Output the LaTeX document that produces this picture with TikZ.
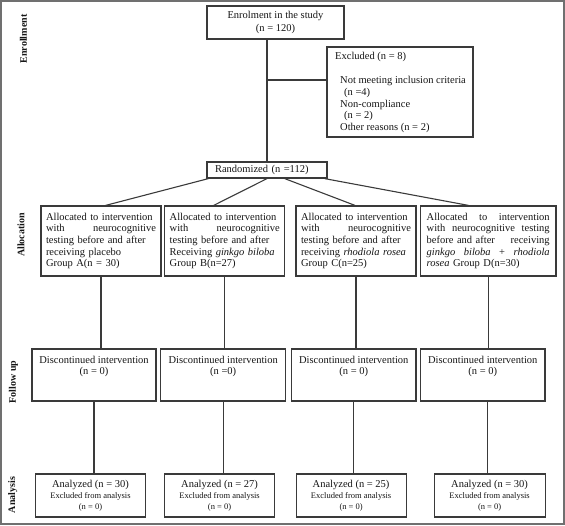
\documentclass[tikz,border=0pt]{standalone}
\usepackage{fontspec}
\setmainfont{Liberation Serif}
\definecolor{ln}{HTML}{3A3A3A}
\definecolor{txt}{HTML}{151515}
\definecolor{framec}{HTML}{707070}
\begin{document}
\begin{tikzpicture}[x=1pt,y=-1pt,
  every node/.style={font=\fontsize{10.5}{11.8}\selectfont, text=txt},
  box/.style={draw=ln, line width=1.2pt, rectangle, inner sep=0pt},
  conn/.style={draw=ln, line width=1.1pt},
  side/.style={rotate=90, font=\fontsize{10}{12}\selectfont\bfseries},
  alloc/.style={box, minimum height=70pt, text width=110pt, inner xsep=5pt, align=left,
    font=\fontsize{10.5}{11.7}\selectfont, execute at begin node={\hyphenpenalty=10000 }},
  fubox/.style={box, minimum height=52pt},
  futxt/.style={anchor=north, inner sep=0pt, align=center},
  anbox/.style={box, minimum height=43pt, align=center}]
\useasboundingbox (0,0) rectangle (565,525);
\draw[draw=framec, line width=1.5pt] (0.8,0.8) rectangle (564.2,524.2);

% side labels
\node[side] (lenr) at (23.5,39) {Enrollment};
\node[side] (lall) at (21,235) {Allocation};
\node[side] (lfu) at (13.5,382) {Follow up};
\node[side] (lan) at (12.7,495) {Analysis};

% enrolment
\node[box, minimum width=137pt, minimum height=33pt, align=center, font=\fontsize{10.5}{12.4}\selectfont] (enrol) at (275.5,22.5) {Enrolment in the study\\(n = 120)};
\node[box, minimum width=146pt, minimum height=90pt] (excl) at (400,92) {};
\node[anchor=north west, inner sep=0pt, align=left] (excltxt) at (335,52.5) {Excluded (n = 8)\\~\\\hspace*{5pt}Not meeting inclusion criteria\\\hspace*{9pt}(n =4)\\\hspace*{5pt}Non-compliance\\\hspace*{9pt}(n = 2)\\\hspace*{5pt}Other reasons (n = 2)};

\node[box, minimum height=16pt, text width=104pt, inner xsep=8pt, align=left] (rand) at (267,170) {Randomized (n =112)};

% allocation
\node[alloc] (allocA) at (101,241) {Allocated to intervention\\with\hfill neurocognitive\\testing before and after\\receiving placebo\\Group A(n = 30)};
\node[alloc] (allocB) at (224.7,241) {Allocated to intervention\\with\hfill neurocognitive\\testing before and after\\Receiving \textit{ginkgo biloba}\\Group B(n=27)};
\node[alloc] (allocC) at (356,241) {Allocated to intervention\\with\hfill neurocognitive\\testing before and after\\receiving \textit{rhodiola rosea}\\Group C(n=25)};
\node[alloc, text width=123pt, inner xsep=6.25pt] (allocD) at (488.2,241) {Allocated\hfill to\hfill intervention\\with\hfill neurocognitive\hfill testing\\before and after\hfill receiving\\\textit{ginkgo}\hfill\textit{biloba}\hfill+\hfill\textit{rhodiola}\\\textit{rosea} Group D(n=30)};

% follow up
\node[fubox, minimum width=124pt] (fuA) at (94,375) {};
\node[fubox, minimum width=125pt] (fuB) at (223.2,375) {};
\node[fubox, minimum width=124.5pt] (fuC) at (353.8,375) {};
\node[fubox, minimum width=124.5pt] (fuD) at (482.8,375) {};
\node[futxt] (fuAt) at ([yshift=-7.3pt]fuA.north) {Discontinued intervention\\(n = 0)};
\node[futxt] (fuBt) at ([yshift=-7.3pt]fuB.north) {Discontinued intervention\\(n =0)};
\node[futxt] (fuCt) at ([yshift=-7.3pt]fuC.north) {Discontinued intervention\\(n = 0)};
\node[futxt] (fuDt) at ([yshift=-7.3pt]fuD.north) {Discontinued intervention\\(n = 0)};

% analysis
\newcommand{\antext}[1]{Analyzed (n = #1)\\[-1pt]{\fontsize{8.5}{9.5}\selectfont Excluded from analysis}\\[-1pt]{\fontsize{8.5}{9.5}\selectfont (n = 0)}}
\node[anbox, minimum width=110pt] (anA) at (90.5,495.5) {\antext{30}};
\node[anbox, minimum width=110pt] (anB) at (219.6,495.5) {\antext{27}};
\node[anbox, minimum width=110pt] (anC) at (351.1,495.5) {\antext{25}};
\node[anbox, minimum width=111pt] (anD) at (489.6,495.5) {\antext{30}};

% connectors
\draw[conn] (rand.north) -- (rand.north |- enrol.south);
\coordinate (br) at (267,80);
\draw[conn] (br) -- (br -| excl.west);
\draw[conn] ([xshift=2pt]rand.south west) -- ([xshift=4.6pt]allocA.north);
\draw[conn] (rand.south) -- ([xshift=-11pt]allocB.north);
\draw[conn] ([xshift=17.7pt]rand.south) -- ([xshift=-1pt]allocC.north);
\draw[conn] ([xshift=-3pt]rand.south east) -- ([xshift=-19.7pt]allocD.north);
\draw[conn] (allocA.south) -- (allocA.south |- fuA.north);
\draw[conn] (allocB.south) -- (allocB.south |- fuB.north);
\draw[conn] (allocC.south) -- (allocC.south |- fuC.north);
\draw[conn] (allocD.south) -- (allocD.south |- fuD.north);
\draw[conn] (fuA.south) -- (fuA.south |- anA.north);
\draw[conn] (fuB.south) -- (fuB.south |- anB.north);
\draw[conn] (fuC.south) -- (fuC.south |- anC.north);
\draw[conn] ([xshift=4.8pt]fuD.south) -- ([xshift=4.8pt]fuD.south |- anD.north);
\end{tikzpicture}
\end{document}
